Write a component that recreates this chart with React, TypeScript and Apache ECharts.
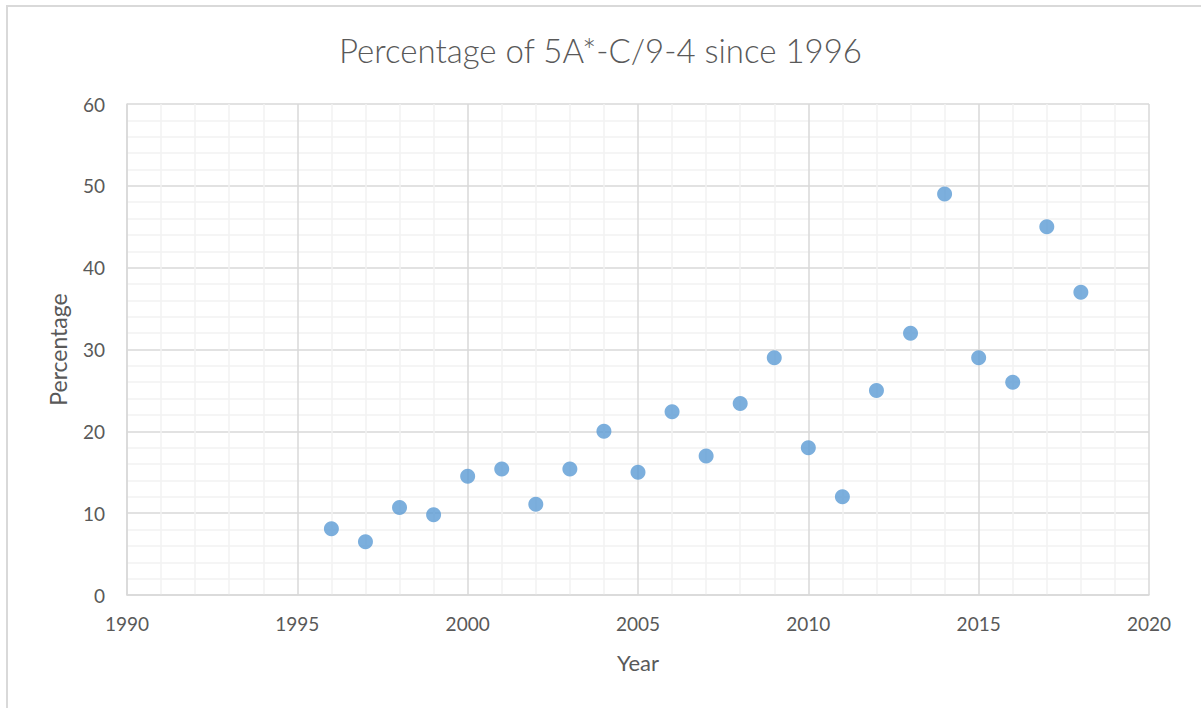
import React, { useEffect, useRef } from "react";
import * as echarts from "echarts";

const years = [1996, 1997, 1998, 1999, 2000, 2001, 2002, 2003, 2004, 2005, 2006, 2007, 2008, 2009, 2010, 2011, 2012, 2013, 2014, 2015, 2016, 2017, 2018];
const percentages = [8.1, 6.5, 10.7, 9.8, 14.5, 15.4, 11.1, 15.4, 20.0, 15.0, 22.4, 17.0, 23.4, 29.0, 18.0, 12.0, 25.0, 32.0, 49.0, 29.0, 26.0, 45.0, 37.0];
const titleText = "Percentage of 5A*-C/9-4 since 1996";
const xName = "Year";
const yName = "Percentage";

export default function App() {
  const ref = useRef<HTMLDivElement>(null);
  useEffect(() => {
    if (!ref.current) return;
    const chart = echarts.init(ref.current, undefined, { renderer: "svg" });
    const font = "Lato, 'Open Sans', sans-serif";
    const textColor = "#595959";
    chart.setOption({
      animation: false,
      backgroundColor: "#ffffff",
      textStyle: { fontFamily: font },
      title: {
        text: titleText,
        left: "center",
        top: 28,
        textStyle: { fontFamily: font, fontSize: 33, fontWeight: 300, color: textColor },
      },
      graphic: [
        {
          type: "rect",
          shape: { x: 7, y: 6, width: 1250, height: 760 },
          style: { fill: "none", stroke: "#d9d9d9", lineWidth: 2 },
          silent: true,
        },
      ],
      grid: { left: 127, right: 52, top: 104, bottom: 113, containLabel: false },
      xAxis: {
        type: "value",
        min: 1990,
        max: 2020,
        interval: 5,
        name: xName,
        nameLocation: "middle",
        nameGap: 56,
        nameTextStyle: { fontSize: 22, color: textColor, fontFamily: font },
        axisLine: { show: true, lineStyle: { color: "#d9d9d9", width: 1.5 } },
        axisTick: { show: false },
        axisLabel: { color: textColor, fontSize: 19, margin: 19, fontFamily: font, formatter: (v: number) => String(v) },
        splitLine: { show: true, lineStyle: { color: "#d9d9d9", width: 1.5 } },
        minorTick: { show: false, splitNumber: 5 },
        minorSplitLine: { show: true, lineStyle: { color: "#f2f2f2", width: 1.5 } },
      },
      yAxis: {
        type: "value",
        min: 0,
        max: 60,
        interval: 10,
        name: yName,
        nameLocation: "middle",
        nameGap: 58,
        nameRotate: 90,
        nameTextStyle: { fontSize: 23, color: textColor, fontFamily: font },
        axisLine: { show: true, lineStyle: { color: "#d9d9d9", width: 1.5 } },
        axisTick: { show: false },
        axisLabel: { color: textColor, fontSize: 19, margin: 22, fontFamily: font },
        splitLine: { show: true, lineStyle: { color: "#d9d9d9", width: 1.5 } },
        minorTick: { show: false, splitNumber: 5 },
        minorSplitLine: { show: true, lineStyle: { color: "#f2f2f2", width: 1.5 } },
      },
      series: [
        {
          type: "scatter",
          data: years.map((y, i) => [y, percentages[i]]),
          symbol: "circle",
          symbolSize: 15,
          itemStyle: { color: "#5b9bd5" },
        },
      ],
    });
    return () => chart.dispose();
  }, []);
  return <div ref={ref} style={{ position: "absolute", left: 0, top: 0, width: 1201, height: 708 }} />;
}
